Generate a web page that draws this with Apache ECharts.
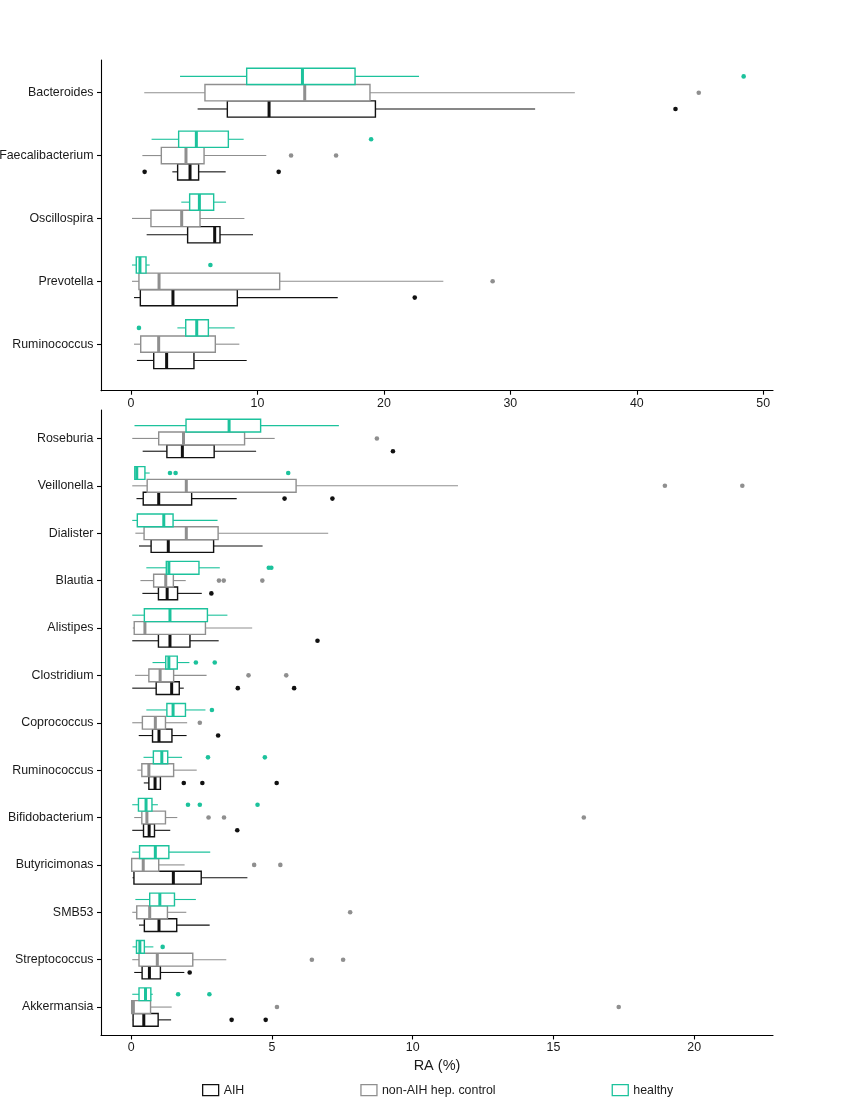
<!DOCTYPE html>
<html><head><meta charset="utf-8">
<script src="https://cdn.jsdelivr.net/npm/echarts@6/dist/echarts.min.js"></script>
<style>html,body{margin:0;padding:0;background:#fff}#c{width:865px;height:1097px}</style>
</head><body><div id="c"></div>
<script>
// ---------- DATA ----------
const groupNames = ['AIH', 'non-AIH hep. control', 'healthy'];
const topCategories = ['Bacteroides','Faecalibacterium','Oscillospira','Prevotella','Ruminococcus'];
const bottomCategories = ['Roseburia','Veillonella','Dialister','Blautia','Alistipes','Clostridium','Coprococcus','Ruminococcus','Bifidobacterium','Butyricimonas','SMB53','Streptococcus','Akkermansia'];
const topTicks = [0, 10, 20, 30, 40, 50];
const bottomTicks = [0, 5, 10, 15, 20];

// box stats: [min, q1, median, q3, max]
const topAIH = [
  [5.27, 7.62, 10.92, 19.33, 31.96],
  [3.27, 3.69, 4.67, 5.35, 7.49],
  [1.24, 4.48, 6.62, 7.04, 9.65],
  [0.24, 0.74, 3.32, 8.41, 16.35],
  [0.47, 1.80, 2.82, 4.98, 9.15]
];
const topNonAIH = [
  [1.05, 5.85, 13.74, 18.90, 35.10],
  [0.90, 2.40, 4.35, 5.78, 10.70],
  [0.08, 1.58, 4.01, 5.46, 8.97],
  [0.08, 0.63, 2.22, 11.76, 24.70],
  [0.24, 0.77, 2.19, 6.67, 8.57]
];
const topHealthy = [
  [3.88, 9.15, 13.56, 17.72, 22.78],
  [1.63, 3.77, 5.17, 7.70, 8.91],
  [3.98, 4.64, 5.41, 6.54, 7.52],
  [0.08, 0.42, 0.71, 1.19, 1.48],
  [3.67, 4.33, 5.20, 6.12, 8.20]
];
// outliers: [categoryIndex, value]
const topAIHOut = [[0,43.06],[1,1.08],[1,11.68],[3,22.44]];
const topNonAIHOut = [[0,44.9],[1,12.66],[1,16.22],[3,28.6]];
const topHealthyOut = [[0,48.45],[1,18.99],[3,6.28],[4,0.63]];

const bottomAIH = [
  [0.41, 1.27, 1.82, 2.95, 4.44],
  [0.19, 0.43, 0.98, 2.15, 3.75],
  [0.28, 0.71, 1.32, 2.93, 4.67],
  [0.40, 0.97, 1.28, 1.65, 2.51],
  [0.04, 0.97, 1.38, 2.09, 3.11],
  [0.04, 0.89, 1.44, 1.71, 1.87],
  [0.27, 0.76, 0.99, 1.45, 1.97],
  [0.45, 0.63, 0.85, 1.04, 1.04],
  [0.04, 0.44, 0.64, 0.83, 1.39],
  [0.05, 0.10, 1.50, 2.49, 4.13],
  [0.28, 0.47, 0.99, 1.62, 2.79],
  [0.11, 0.39, 0.65, 1.04, 1.89],
  [0.06, 0.07, 0.45, 0.96, 1.42]
];
const bottomNonAIH = [
  [0.04, 0.98, 1.86, 4.03, 5.10],
  [0.04, 0.57, 1.96, 5.86, 11.61],
  [0.15, 0.46, 1.96, 3.09, 7.00],
  [0.33, 0.80, 1.23, 1.50, 1.94],
  [0.06, 0.11, 0.49, 2.64, 4.30],
  [0.14, 0.63, 1.03, 1.51, 2.68],
  [0.04, 0.40, 0.86, 1.22, 1.99],
  [0.22, 0.38, 0.63, 1.51, 2.33],
  [0.11, 0.38, 0.56, 1.22, 1.64],
  [0.02, 0.02, 0.43, 0.98, 1.90],
  [0.04, 0.20, 0.66, 1.29, 1.96],
  [0.04, 0.28, 0.93, 2.19, 3.38],
  [0.02, 0.02, 0.08, 0.69, 1.44]
];
const bottomHealthy = [
  [0.12, 1.95, 3.48, 4.60, 7.38],
  [0.12, 0.13, 0.20, 0.49, 0.66],
  [0.04, 0.22, 1.16, 1.49, 3.07],
  [0.54, 1.25, 1.34, 2.41, 3.15],
  [0.04, 0.47, 1.38, 2.71, 3.42],
  [0.76, 1.23, 1.34, 1.64, 2.07],
  [0.54, 1.27, 1.49, 1.93, 2.64],
  [0.44, 0.79, 1.09, 1.30, 1.81],
  [0.04, 0.26, 0.53, 0.74, 0.95],
  [0.04, 0.30, 0.86, 1.34, 2.81],
  [0.15, 0.66, 1.02, 1.54, 2.30],
  [0.05, 0.19, 0.31, 0.47, 0.79],
  [0.04, 0.28, 0.51, 0.70, 0.77]
];
const bottomAIHOut = [[0,9.30],[1,5.45],[1,7.15],[3,2.85],[4,6.62],[5,3.79],[5,5.79],[6,3.09],[7,1.87],[7,2.53],[7,5.17],[8,3.77],[11,2.08],[12,3.57],[12,4.78]];
const bottomNonAIHOut = [[0,8.73],[1,18.96],[1,21.71],[3,3.12],[3,3.29],[3,4.66],[5,4.17],[5,5.51],[6,2.44],[8,2.75],[8,3.30],[8,16.08],[9,4.37],[9,5.30],[10,7.78],[11,6.42],[11,7.53],[12,5.18],[12,17.32]];
const bottomHealthyOut = [[1,1.38],[1,1.58],[1,5.58],[3,4.89],[3,4.98],[5,2.30],[5,2.97],[6,2.87],[7,2.73],[7,4.75],[8,2.02],[8,2.44],[8,4.49],[11,1.12],[12,1.67],[12,2.78]];

// ---------- STYLE ----------
const colors = ['#111111', '#8f8f8f', '#1cc29c'];
const FONT = 'Liberation Sans, Arial, Helvetica, sans-serif';
const TEXT = '#1a1a1a';

const panels = [
  { cats: topCategories, ticks: topTicks, xMin: -2.37, xMax: 50.77, yMin: -0.52, yMax: 4.74, dodge: 0.259,
    boxes: [topAIH, topNonAIH, topHealthy], outs: [topAIHOut, topNonAIHOut, topHealthyOut] },
  { cats: bottomCategories, ticks: bottomTicks, xMin: -1.07, xMax: 22.8, yMin: -0.6, yMax: 12.6, dodge: 0.27,
    boxes: [bottomAIH, bottomNonAIH, bottomHealthy], outs: [bottomAIHOut, bottomNonAIHOut, bottomHealthyOut] }
];
// group position within category: AIH below (+1), non-AIH centre (0), healthy above (-1)
const groupShift = [1, 0, -1];

function boxRender(shift, dodge, color) {
  return function (params, api) {
    const y = api.value(0) + shift * dodge;
    const pMin = api.coord([api.value(1), y]);
    const pQ1 = api.coord([api.value(2), y]);
    const pMed = api.coord([api.value(3), y]);
    const pQ3 = api.coord([api.value(4), y]);
    const pMax = api.coord([api.value(5), y]);
    const h = api.size([0, dodge])[1];
    const cy = pMed[1];
    return { type: 'group', children: [
      { type: 'line', shape: { x1: pMin[0], y1: cy, x2: pQ1[0], y2: cy }, style: { stroke: color, lineWidth: 1.1 } },
      { type: 'line', shape: { x1: pQ3[0], y1: cy, x2: pMax[0], y2: cy }, style: { stroke: color, lineWidth: 1.1 } },
      { type: 'rect', shape: { x: pQ1[0], y: cy - h / 2, width: Math.max(pQ3[0] - pQ1[0], 0.5), height: h }, style: { fill: '#ffffff', stroke: color, lineWidth: 1.4 } },
      { type: 'line', shape: { x1: pMed[0], y1: cy - h / 2, x2: pMed[0], y2: cy + h / 2 }, style: { stroke: color, lineWidth: 3 } }
    ]};
  };
}

const grids = [
  { left: 101, right: 92, top: 60, height: 330.7, containLabel: false, outerBoundsMode: 'none' },
  { left: 101, right: 92, top: 410, height: 625.5, containLabel: false, outerBoundsMode: 'none' }
];
const xAxes = [], yAxes = [], series = [];
panels.forEach((p, pi) => {
  xAxes.push({
    gridIndex: pi, type: 'value', min: p.xMin, max: p.xMax,
    axisLine: { show: true, onZero: false, lineStyle: { color: '#000', width: 1.1 } },
    axisTick: { show: true, length: 4, customValues: p.ticks, lineStyle: { color: '#000', width: 1.1 } },
    axisLabel: { customValues: p.ticks, color: TEXT, fontSize: 12.4, fontFamily: FONT, margin: 6.5 },
    splitLine: { show: false },
    name: pi === 1 ? 'RA (%)' : '', nameLocation: 'middle', nameGap: 23,
    nameTextStyle: { color: TEXT, fontSize: 14.5, fontFamily: FONT }
  });
  yAxes.push({
    gridIndex: pi, type: 'value', inverse: true, min: p.yMin, max: p.yMax,
    axisLine: { show: true, onZero: false, lineStyle: { color: '#000', width: 1.1 } },
    axisTick: { show: true, length: 4, customValues: p.cats.map((c, i) => i), lineStyle: { color: '#000', width: 1.1 } },
    axisLabel: { customValues: p.cats.map((c, i) => i), formatter: v => p.cats[Math.round(v)], color: TEXT, fontSize: 12.4, fontFamily: FONT, margin: 7.5 },
    splitLine: { show: false }
  });
  [0, 1, 2].forEach(g => {
    series.push({
      type: 'custom', name: groupNames[g], xAxisIndex: pi, yAxisIndex: pi,
      renderItem: boxRender(groupShift[g], p.dodge, colors[g]),
      encode: { x: [1, 2, 3, 4, 5], y: 0 },
      itemStyle: { color: '#fff', borderColor: colors[g] },
      data: p.boxes[g].map((d, i) => [i].concat(d)),
      silent: true, z: 2 + g
    });
    series.push({
      type: 'scatter', name: groupNames[g], xAxisIndex: pi, yAxisIndex: pi,
      symbol: 'circle', symbolSize: 4.6,
      itemStyle: { color: colors[g], opacity: 1 },
      data: p.outs[g].map(o => [o[1], o[0] + groupShift[g] * p.dodge]),
      silent: true, z: 5
    });
  });
});

const chart = echarts.init(document.getElementById('c'), null, { renderer: 'canvas' });
chart.setOption({
  animation: false,
  backgroundColor: '#ffffff',
  grid: grids,
  xAxis: xAxes,
  yAxis: yAxes,
  legend: {
    left: 202, top: 1081, orient: 'horizontal', itemGap: 116, itemWidth: 16, itemHeight: 11,
    padding: [3, 0, 3, 0],
    selectedMode: false,
    textStyle: { color: TEXT, fontSize: 12.4, fontFamily: FONT },
    data: groupNames.map((n, g) => ({ name: n, icon: 'rect', itemStyle: { color: '#ffffff', borderColor: colors[g], borderWidth: 1.3 } }))
  },
  series: series
});
</script></body></html>
